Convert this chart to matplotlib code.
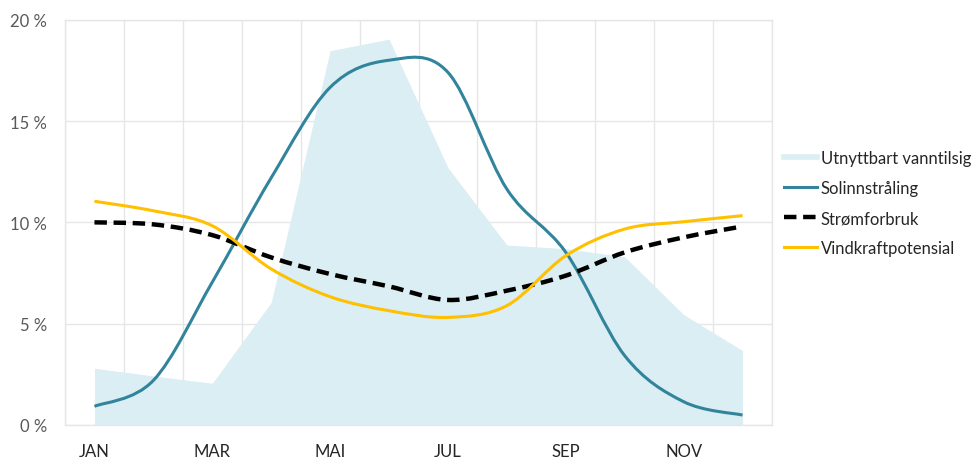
import matplotlib
matplotlib.use("Agg")
import matplotlib.pyplot as plt
import numpy as np
from matplotlib.path import Path
from matplotlib.patches import PathPatch
from matplotlib.lines import Line2D

# ── Data (andel av årlig total per måned, %) ─────────────────────────────────
months = ["JAN", "FEB", "MAR", "APR", "MAI", "JUN",
          "JUL", "AUG", "SEP", "OKT", "NOV", "DES"]
vanntilsig = [2.80, 2.42, 2.06, 6.05, 18.47, 19.04,
              12.70, 8.88, 8.70, 8.30, 5.45, 3.67]
solinnstraling = [0.92, 2.20, 7.05, 12.20, 16.66, 18.00,
                  17.40, 11.64, 8.52, 3.42, 1.15, 0.49]
stromforbruk = [10.00, 9.90, 9.37, 8.27, 7.45, 6.84,
                6.17, 6.63, 7.37, 8.52, 9.26, 9.80]
vindkraft = [11.04, 10.57, 9.83, 7.70, 6.33, 5.64,
             5.31, 5.89, 8.35, 9.67, 10.03, 10.33]
y_ticks = [0, 5, 10, 15, 20]

plt.rcParams["font.family"] = ["Lato", "DejaVu Sans"]

AREA_C = "#DAEEF3"
SOL_C = "#31849B"
STROM_C = "#000000"
VIND_C = "#FFC000"
GRID_C = "#E6E6E6"


def smooth_path(x, y):
    """Excel-lignende glatt linje: Bezier-segmenter gjennom hvert punkt."""
    p = np.column_stack([x, y]).astype(float)
    ext = np.vstack([p[0], p, p[-1]])
    verts = [p[0]]
    codes = [Path.MOVETO]
    for i in range(len(p) - 1):
        p0, p1, p2, p3 = ext[i], ext[i + 1], ext[i + 2], ext[i + 3]
        c1 = p1 + (p2 - p0) / 6.0
        c2 = p2 - (p3 - p1) / 6.0
        verts += [c1, c2, p2]
        codes += [Path.CURVE4] * 3
    return Path(verts, codes)


fig = plt.figure(figsize=(9.73, 4.6), dpi=100)
ax = fig.add_axes([65 / 973, 34 / 460, 707 / 973, 405.3 / 460])

x = np.arange(len(months)) + 0.5

ax.fill_between(x, 0, vanntilsig, color=AREA_C, lw=0, zorder=1)

for vals, col, lw, ls in [(solinnstraling, SOL_C, 2.2, "-"),
                          (stromforbruk, STROM_C, 3.2, (0, (2.8, 1.5))),
                          (vindkraft, VIND_C, 2.2, "-")]:
    patch = PathPatch(smooth_path(x, vals), fill=False, edgecolor=col,
                      lw=lw, linestyle=ls, capstyle="butt", zorder=3)
    ax.add_patch(patch)

ax.set_xlim(0, 12)
ax.set_ylim(0, 20)
ax.set_xticks(x[::2])
ax.set_xticklabels(months[::2], fontsize=12, color="#262626")
ax.set_xticks(np.arange(13), minor=True)
ax.set_yticks(y_ticks)
ax.set_yticklabels([f"{v} %" for v in y_ticks], fontsize=12, color="#595959")
ax.tick_params(axis="both", which="both", length=0)
ax.tick_params(axis="x", pad=13)
ax.tick_params(axis="y", pad=13)
ax.grid(True, axis="y", which="major", color=GRID_C, lw=1, zorder=0)
ax.grid(True, axis="x", which="minor", color=GRID_C, lw=1, zorder=0)
ax.set_axisbelow(True)
for s in ax.spines.values():
    s.set_color(GRID_C)
    s.set_linewidth(1)

handles = [
    Line2D([], [], color=AREA_C, lw=4),
    Line2D([], [], color=SOL_C, lw=2.2),
    Line2D([], [], color=STROM_C, lw=3.2, ls=(0, (2.8, 1.5))),
    Line2D([], [], color=VIND_C, lw=2.2),
]
labels = ["Utnyttbart vanntilsig", "Solinnstråling", "Strømforbruk",
          "Vindkraftpotensial"]
fig.legend(handles, labels, loc="center left",
           bbox_to_anchor=(784 / 973, (460 - 204) / 460), frameon=False,
           fontsize=12, labelcolor="#262626", handlelength=2.0,
           handletextpad=0.2, labelspacing=0.85, borderaxespad=0,
           borderpad=0)

fig.savefig("out.png", dpi=100)
